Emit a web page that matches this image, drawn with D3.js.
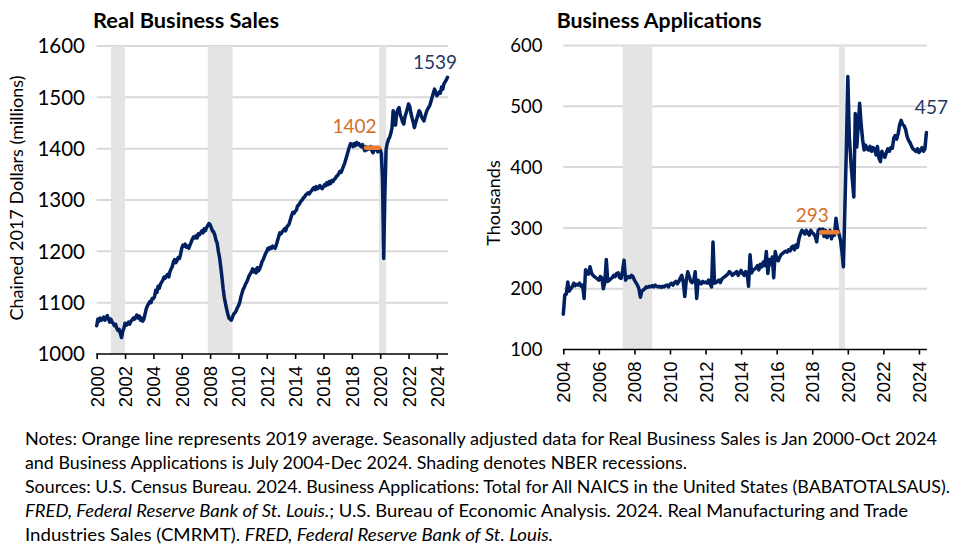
<!DOCTYPE html>
<html><head><meta charset="utf-8">
<script src="https://cdn.jsdelivr.net/npm/d3@7"></script>
<style>body{margin:0;background:#fff}svg{display:block}</style>
</head><body><svg id="c" width="975" height="556"></svg>
<script>
// ---------------- DATA ----------------
const salesStart = "2000-01";   // Real Business Sales, monthly Jan 2000 - Oct 2024
const salesValues = [
1055,1068,1064,1070,1066,1068,1072,1066,1070,1075,1068,1062,
1068,1062,1060,1055,1058,1050,1046,1048,1040,1032,1044,1050,
1060,1056,1058,1062,1058,1064,1066,1070,1068,1072,1076,1070,
1074,1066,1070,1064,1068,1078,1088,1094,1098,1102,1100,1108,
1108,1112,1124,1120,1132,1128,1136,1140,1144,1150,1148,1152,
1155,1150,1160,1166,1170,1180,1184,1178,1182,1188,1186,1194,
1206,1212,1210,1214,1208,1210,1206,1212,1218,1224,1228,1226,
1230,1226,1234,1232,1236,1240,1236,1244,1240,1246,1250,1254,
1252,1246,1240,1238,1232,1222,1216,1200,1188,1170,1150,1128,
1110,1098,1088,1078,1070,1068,1066,1072,1078,1080,1084,1090,
1094,1100,1110,1118,1126,1130,1136,1140,1146,1152,1156,1160,
1166,1160,1164,1158,1168,1162,1166,1172,1180,1184,1190,1196,
1200,1206,1204,1208,1206,1210,1208,1206,1212,1220,1228,1236,
1234,1238,1240,1244,1240,1248,1250,1254,1262,1270,1276,1274,
1278,1280,1288,1290,1294,1298,1300,1304,1306,1310,1312,1314,
1312,1316,1318,1322,1324,1320,1326,1322,1324,1328,1324,1322,
1326,1330,1328,1334,1330,1336,1332,1338,1336,1340,1342,1346,
1348,1352,1356,1354,1360,1366,1372,1380,1388,1396,1404,1410,
1408,1404,1410,1406,1412,1408,1410,1406,1404,1408,1402,1396,
1404,1398,1402,1400,1404,1396,1392,1402,1398,1400,1394,1396,
1398,1390,1340,1186,1310,1398,1410,1418,1422,1430,1440,1474,
1450,1446,1470,1476,1480,1466,1460,1452,1448,1462,1470,1478,
1487,1482,1470,1460,1452,1441,1450,1458,1466,1474,1470,1462,
1458,1454,1462,1470,1476,1480,1484,1492,1500,1508,1516,1510,
1503,1506,1510,1508,1520,1516,1526,1530,1534,1539
];
const salesAvg2019 = 1402;
const salesLast = 1539;
const salesYTicks = [1000,1100,1200,1300,1400,1500,1600];
const salesXTickYears = [2000,2002,2004,2006,2008,2010,2012,2014,2016,2018,2020,2022,2024];
const salesRecessions = [["2001-01","2002-01"],["2007-11","2009-08"],["2019-12","2020-06"]];

const appsStart = "2004-07";    // Business Applications (thousands), monthly Jul 2004 - Dec 2024
const appsValues = [
158,190,191,211,196,200,
203,209,205,207,206,209,204,206,184,231,226,224,
236,226,222,220,218,216,214,220,218,200,210,248,
212,214,216,218,222,220,225,226,218,217,230,247,
214,218,220,218,222,220,214,210,206,200,186,196,
198,200,203,202,204,203,205,203,206,204,203,204,
202,204,203,205,206,203,207,209,206,210,212,208,
212,218,222,210,187,214,228,220,212,210,214,228,
184,214,210,208,212,210,211,209,214,208,203,277,
209,210,212,214,210,216,218,220,222,224,228,226,
222,224,226,228,222,226,230,225,222,228,226,204,
256,226,230,232,234,238,231,240,236,244,238,261,
225,248,240,252,218,261,250,246,252,256,258,260,
262,260,264,262,268,270,264,272,268,282,290,296,
294,290,296,292,288,296,292,290,286,277,296,298,
292,298,286,296,284,290,296,282,292,288,316,298,
290,280,262,236,330,430,549,450,410,380,351,488,
433,470,505,470,445,428,436,430,428,434,426,432,
430,420,434,415,409,426,420,416,424,430,426,432,
431,448,452,446,455,470,477,470,468,462,450,444,
440,434,430,428,426,430,424,428,432,426,430,457
];
const appsAvg2019 = 293;
const appsLast = 457;
const appsYTicks = [100,200,300,400,500,600];
const appsXTickYears = [2004,2006,2008,2010,2012,2014,2016,2018,2020,2022,2024];
const appsRecessions = [["2007-11","2009-07"],["2020-01","2020-05"]];

const avgPeriod = ["2019-01","2019-12"];

const noteLines = [
  [["Notes: Orange line represents 2019 average. Seasonally adjusted data for Real Business Sales is Jan 2000-Oct 2024", false]],
  [["and Business Applications is July 2004-Dec 2024. Shading denotes NBER recessions.", false]],
  [["Sources: U.S. Census Bureau.  2024. Business Applications: Total for All NAICS in the United States (BABATOTALSAUS).", false]],
  [["FRED, Federal Reserve Bank of St. Louis.", true], ["; U.S. Bureau of Economic Analysis. 2024. Real Manufacturing and Trade", false]],
  [["Industries Sales (CMRMT). ", false], ["FRED, Federal Reserve Bank of St. Louis.", true]]
];
const noteWidths = [912, 662, 925, 883, 528];

// ---------------- DRAW ----------------
const NAVY = "#002060", ORANGE = "#ED7D31", ORANGE_TXT = "#D46F2A", LABEL_NAVY = "#1F3864";
const FONT = "Lato, 'Open Sans', sans-serif";
const svg = d3.select("#c");
const pm = d3.timeParse("%Y-%m");

function panel(cfg) {
  const start = pm(cfg.start);
  const data = cfg.values.map((v, i) => ({date: d3.timeMonth.offset(start, i), v}));
  const x = d3.scaleTime().domain([data[0].date, data[data.length - 1].date]).range(cfg.xr);
  const y = d3.scaleLinear().domain([cfg.yTicks[0], cfg.yTicks[cfg.yTicks.length - 1]]).range(cfg.yr);
  const g = svg.append("g");

  // gridlines
  g.selectAll("line.grid").data(cfg.yTicks.slice(1)).join("line")
    .attr("x1", cfg.xr[0]).attr("x2", cfg.xr[1] + 0.5)
    .attr("y1", d => y(d)).attr("y2", d => y(d))
    .attr("stroke", "#D9D9D9").attr("stroke-width", 2);

  // recessions
  g.selectAll("rect.rec").data(cfg.recessions).join("rect")
    .attr("x", d => x(pm(d[0])))
    .attr("width", d => x(pm(d[1])) - x(pm(d[0])))
    .attr("y", y(cfg.yTicks[cfg.yTicks.length - 1]))
    .attr("height", y(cfg.yTicks[0]) - y(cfg.yTicks[cfg.yTicks.length - 1]))
    .attr("fill", "#E4E4E4");

  // y labels
  g.selectAll("text.yl").data(cfg.yTicks).join("text")
    .attr("x", cfg.yLabelX).attr("y", d => y(d)).attr("dy", "0.36em")
    .attr("text-anchor", "end").attr("font-family", FONT)
    .attr("font-size", cfg.yFont).attr("fill", "#000").text(d => d);

  // x axis
  const tickDates = cfg.xTickYears.map(yr => new Date(yr, cfg.tickMonth, 1));
  const ax = g.append("g").attr("transform", `translate(0,${y(cfg.yTicks[0])})`)
    .call(d3.axisBottom(x).tickValues(tickDates).tickFormat(d3.timeFormat("%Y")).tickSize(5).tickSizeOuter(0));
  ax.select(".domain").attr("stroke", "#000").attr("stroke-width", 1.6)
    .attr("d", `M${cfg.xr[0] - 0.5},0H${cfg.xr[1] + 0.5}`);
  ax.selectAll(".tick line").attr("stroke", "#000").attr("stroke-width", 1.6);
  ax.selectAll(".tick text")
    .attr("transform", "rotate(-90)").attr("text-anchor", "end")
    .attr("x", -12).attr("y", 0).attr("dy", "0.35em")
    .attr("font-family", "'Liberation Sans', Arial, sans-serif").attr("font-size", 18.5).attr("fill", "#000");

  // series line
  g.append("path").datum(data)
    .attr("fill", "none").attr("stroke", NAVY).attr("stroke-width", 3.5)
    .attr("stroke-linejoin", "round").attr("stroke-linecap", "round")
    .attr("d", d3.line().x(d => x(d.date)).y(d => y(d.v)));

  // 2019 average line
  const ax0 = x(pm(avgPeriod[0])), ax1 = x(pm(avgPeriod[1]));
  g.append("line").attr("x1", ax0).attr("x2", ax1)
    .attr("y1", y(cfg.avg)).attr("y2", y(cfg.avg))
    .attr("stroke", ORANGE).attr("stroke-width", 4.5).attr("stroke-linecap", "round");
  g.append("text").attr("x", (ax0 + ax1) / 2 + cfg.avgLabelDx).attr("y", y(cfg.avg) + cfg.avgLabelDy)
    .attr("text-anchor", "middle").attr("font-family", FONT).attr("font-size", cfg.annFont)
    .attr("fill", ORANGE_TXT).text(cfg.avg);

  // last value label
  const last = data[data.length - 1];
  g.append("text").attr("x", x(last.date) + cfg.lastLabelDx).attr("y", y(last.v) + cfg.lastLabelDy)
    .attr("text-anchor", "middle").attr("font-family", FONT).attr("font-size", cfg.annFont)
    .attr("fill", LABEL_NAVY).text(cfg.last);

  // title
  svg.append("text").attr("x", cfg.titleX).attr("y", 27.5)
    .attr("font-family", FONT).attr("font-weight", "bold").attr("font-size", 20.5)
    .attr("textLength", cfg.titleW).attr("lengthAdjust", "spacingAndGlyphs")
    .attr("fill", "#000").text(cfg.title);

  // y title
  svg.append("text").attr("transform", `translate(${cfg.yTitleX},${cfg.yTitleY}) rotate(-90)`)
    .attr("text-anchor", "middle").attr("font-family", FONT).attr("font-size", 18)
    .attr("fill", "#000").text(cfg.yTitle);
}

panel({
  start: salesStart, values: salesValues, yTicks: salesYTicks, xTickYears: salesXTickYears,
  recessions: salesRecessions, tickMonth: 0, xr: [96.7, 447.5], yr: [354, 46],
  yLabelX: 85, yFont: 20.5, avg: salesAvg2019, last: salesLast, annFont: 19,
  avgLabelDx: -18, avgLabelDy: -14.5, lastLabelDx: -12.5, lastLabelDy: -8.5,
  title: "Real Business Sales", titleX: 93, titleW: 186,
  yTitle: "Chained 2017 Dollars (millions)", yTitleX: 23, yTitleY: 198
});
panel({
  start: appsStart, values: appsValues, yTicks: appsYTicks, xTickYears: appsXTickYears,
  recessions: appsRecessions, tickMonth: 6, xr: [563.3, 926.4], yr: [349.5, 45.5],
  yLabelX: 542.5, yFont: 18.5, avg: appsAvg2019, last: appsLast, annFont: 19,
  avgLabelDx: -17, avgLabelDy: -10, lastLabelDx: 5, lastLabelDy: -18,
  title: "Business Applications", titleX: 556.7, titleW: 205,
  yTitle: "Thousands", yTitleX: 500, yTitleY: 203
});

// notes
const notes = svg.append("g").attr("font-family", FONT).attr("font-size", 17.5).attr("fill", "#000");
noteLines.forEach((parts, i) => {
  const t = notes.append("text").attr("x", 25).attr("y", 445 + i * 24)
    .attr("textLength", noteWidths[i]).attr("lengthAdjust", "spacingAndGlyphs");
  parts.forEach(([s, it]) => t.append("tspan").attr("font-style", it ? "italic" : "normal").text(s));
});
</script>
</body></html>
